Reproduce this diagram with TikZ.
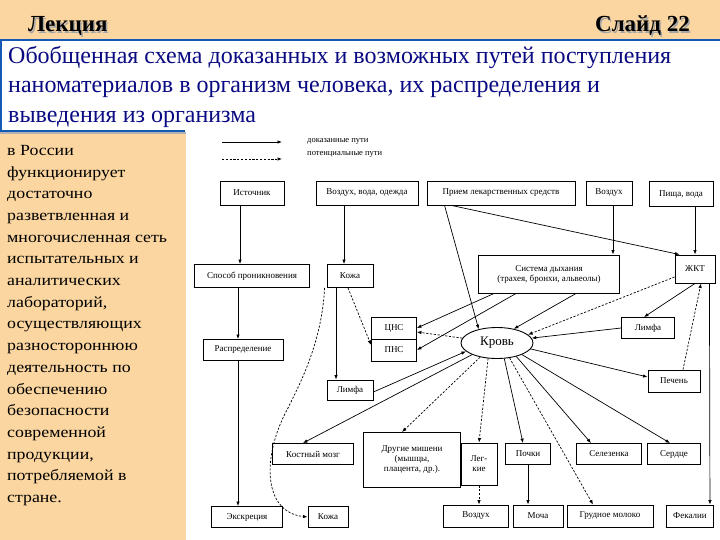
\documentclass[tikz,border=0pt]{standalone}
\usepackage{fontspec}
\setmainfont{Liberation Serif}
\newfontfamily\sidefont{Liberation Serif}[FakeStretch=1.15]
\usetikzlibrary{arrows.meta, positioning, shapes.geometric}
\definecolor{peach}{RGB}{251,214,160}
\definecolor{titleblue}{RGB}{10,10,130}
\definecolor{lineblue}{RGB}{20,90,180}
\newcommand{\dfont}{\fontsize{9}{10}\selectfont}

\begin{document}
\begin{tikzpicture}[x=1pt, y=-1pt,
  box/.style={draw, line width=0.9pt, font=\dfont, inner sep=1pt, align=center},
  arr/.style={-{Latex[length=4.5pt,width=3.5pt]}, line width=0.7pt},
  darr/.style={arr, dash pattern=on 2.2pt off 1.6pt}]
  % Slide background
  \useasboundingbox (0,0) rectangle (720,540);
  \fill[white] (0,0) rectangle (720,540);
  \fill[peach] (0,0) rectangle (720,39);
  \fill[peach] (0,133) rectangle (186,540);
  \draw[lineblue, line width=2pt] (0,40) -- (720,40);
  \draw[lineblue, line width=2pt] (1,40) -- (1,131);
  \draw[gray!60, line width=1.5pt] (0,133) -- (186,133);
  \draw[lineblue, line width=2pt] (0,131) -- (185,131);
  % Header
  \node[gray!70, font=\fontsize{23}{23}\selectfont\bfseries, anchor=base west, inner sep=0pt] at (29.5,33.5) {Лекция};
  \node[font=\fontsize{23}{23}\selectfont\bfseries, anchor=base west, inner sep=0pt] (lect) at (28,32) {Лекция};
  \node[gray!70, font=\fontsize{23}{23}\selectfont\bfseries, anchor=base east, inner sep=0pt] at (691.5,33.5) {Слайд 22};
  \node[font=\fontsize{23}{23}\selectfont\bfseries, anchor=base east, inner sep=0pt] (slide) at (690,32) {Слайд 22};
  % Title
  \node[titleblue, font=\fontsize{24}{29.5}\selectfont, anchor=north west, align=left, inner sep=0pt] (title) at (8,46)
    {Обобщенная схема доказанных и возможных путей поступления\\
     наноматериалов в организм человека, их распределения и\\
     выведения из организма};
  % Left panel text
  \node[font=\fontsize{15.5}{21.7}\sidefont, anchor=north west, align=left, inner sep=0pt] (side) at (7,145)
    {в России\\ функционирует\\ достаточно\\ разветвленная и\\ многочисленная сеть\\
     испытательных и\\ аналитических\\ лабораторий,\\ осуществляющих\\ разностороннюю\\
     деятельность по\\ обеспечению\\ безопасности\\ современной\\ продукции,\\
     потребляемой в\\ стране.};
  % Legend
  \coordinate (lg1a) at (222,142); \coordinate (lg1b) at (282,142);
  \coordinate (lg2a) at (222,159); \coordinate (lg2b) at (282,159);
  \draw[arr] (lg1a) -- (lg1b);
  \draw[darr] (lg2a) -- (lg2b);
  \node[font=\fontsize{8.5}{9}\selectfont, anchor=west, inner sep=0pt] (lgt1) at (307,141) {доказанные пути};
  \node[font=\fontsize{8.5}{9}\selectfont, anchor=west, inner sep=0pt] (lgt2) at (307,154) {потенциальные пути};
  % Sources
  \node[box, minimum width=64pt, minimum height=24pt] (ist)    at (252,193) {Источник};
  \node[box, minimum width=102pt, minimum height=24pt] (vvo)   at (367,193) {Воздух, вода, одежда};
  \node[box, minimum width=148pt, minimum height=24pt] (priem) at (501,193) {Прием лекарственных средств};
  \node[box, minimum width=46pt, minimum height=24pt] (vozd)   at (609,193) {Воздух};
  \node[box, minimum width=64pt, minimum height=25pt] (pisha)  at (681,194) {Пища, вода};
  % Entry
  \node[box, minimum width=115pt, minimum height=23pt] (spos)  at (252,276) {Способ проникновения};
  \node[box, minimum width=46pt, minimum height=23pt] (kozha)  at (350,276) {Кожа};
  \node[box, minimum width=141pt, minimum height=38pt] (sysd)  at (549,274) {Система дыхания\\(трахея, бронхи, альвеолы)};
  \node[box, minimum width=40pt, minimum height=28pt] (zhkt)   at (695,269) {ЖКТ};
  % Distribution
  \node[box, minimum width=45pt, minimum height=22pt] (cns)    at (394,328) {ЦНС};
  \node[box, minimum width=45pt, minimum height=22pt] (pns)    at (394,350) {ПНС};
  \node[box, minimum width=80pt, minimum height=21pt] (raspr)  at (243,350) {Распределение};
  \node[box, minimum width=46pt, minimum height=20pt] (limfa)  at (350,390) {Лимфа};
  \node[draw, ellipse, line width=0.9pt, inner sep=0pt, minimum width=72pt, minimum height=31pt,
        font=\fontsize{13}{14}\selectfont] (krov) at (497,343) {Кровь};
  \node[box, minimum width=53pt, minimum height=21pt] (limfr)  at (648,328) {Лимфа};
  \node[box, minimum width=52pt, minimum height=22pt] (pechen) at (674,381) {Печень};
  % Targets
  \node[box, minimum width=81pt, minimum height=21pt] (kmozg)  at (313,454) {Костный мозг};
  \node[box, minimum width=97pt, minimum height=55pt] (drug)   at (412,460) {Другие мишени\\(мышцы,\\плацента, др.).};
  \node[box, minimum width=36pt, minimum height=42pt] (legk)   at (479,464) {Лег-\\кие};
  \node[box, minimum width=45pt, minimum height=21pt] (pochki) at (528,454) {Почки};
  \node[box, minimum width=65pt, minimum height=21pt] (selez)  at (609,454) {Селезенка};
  \node[box, minimum width=53pt, minimum height=21pt] (serdce) at (674,454) {Сердце};
  % Excretion
  \node[box, minimum width=71pt, minimum height=21pt] (ekskr)  at (247,517) {Экскреция};
  \node[box, minimum width=40pt, minimum height=21pt] (kozhab) at (328,517) {Кожа};
  \node[box, minimum width=65pt, minimum height=22pt] (vozdb)  at (476,516) {Воздух};
  \node[box, minimum width=50pt, minimum height=22pt] (mocha)  at (538,516) {Моча};
  \node[box, minimum width=86pt, minimum height=22pt] (moloko) at (610,516) {Грудное молоко};
  \node[box, minimum width=47pt, minimum height=22pt] (fekal)  at (690,516) {Фекалии};
  % Left column
  \draw[arr] ([xshift=-12pt]ist.south) -- ([xshift=-12pt]ist.south |- spos.north);
  \draw[arr] ([xshift=-14pt]spos.south) -- ([xshift=-14pt]spos.south |- raspr.north);
  \draw[arr] ([xshift=-5pt]raspr.south) -- ([xshift=-5pt]raspr.south |- ekskr.north);
  % Skin
  \draw[arr] ([xshift=-6pt]kozha.north |- vvo.south) -- ([xshift=-6pt]kozha.north);
  \draw[arr] ([xshift=-14pt]kozha.south) -- ([xshift=-14pt]limfa.north);
  \draw[darr] ([xshift=-2pt]kozha.south) -- ([yshift=5pt]pns.west);
  \draw[darr] ([xshift=-2pt]kozha.south west) .. controls (322,340) and (302,380) .. (288,408)
    .. controls (262,455) and (262,512) .. (kozhab.west);
  % Drugs, air, food
  \draw[arr] ([xshift=18pt]priem.south west) -- (krov.143);
  \draw[arr] ([xshift=25pt]priem.south west) -- ([xshift=5pt]zhkt.north west);
  \draw[arr] ([xshift=4pt]vozd.south) -- ([xshift=4pt]vozd.south |- sysd.north);
  \draw[arr] (zhkt.north |- pisha.south) -- (zhkt.north);
  % Respiratory system
  \draw[arr] ([xshift=16pt]sysd.south west) -- (cns.east);
  \draw[arr] ([xshift=38pt]sysd.south west) -- (pns.east);
  \draw[arr] ([xshift=98pt]sysd.south west) -- (krov.40);
  % Blood in
  \draw[darr] (krov.172) -- ([yshift=-4pt]cns.east);
  \draw[arr] ([yshift=-2pt]limfa.east) -- (krov.195);
  \draw[arr] (limfr.west) -- (krov.8);
  \draw[darr] ([yshift=-8pt]zhkt.west) -- (krov.15);
  % GIT
  \draw[arr] (zhkt.south) -- ([xshift=-4pt]limfr.north);
  \draw[darr] ([xshift=9pt]pechen.north) -- ([xshift=6pt]zhkt.south);
  \draw[arr] ([xshift=-6pt]zhkt.south east) -- ([xshift=-4pt]fekal.north east);
  % Blood out
  \draw[arr] (krov.205) -- ([xshift=-10pt]kmozg.north);
  \draw[darr] (krov.220) -- ([xshift=-10pt]drug.north);
  \draw[darr] (krov.240) -- (legk.north);
  \draw[arr] (krov.295) -- ([xshift=-5pt]pochki.north);
  \draw[darr] (krov.310) -- ([xshift=-17pt]moloko.north);
  \draw[arr] (krov.325) -- ([xshift=-18pt]selez.north);
  \draw[arr] (krov.335) -- ([xshift=-4pt]serdce.north);
  \draw[arr] (krov.350) -- ([yshift=4pt]pechen.west);
  % Excretion
  \draw[darr] (legk.south) -- (legk.south |- vozdb.north);
  \draw[arr] (pochki.south) -- (pochki.south |- mocha.north);
\end{tikzpicture}
\end{document}
